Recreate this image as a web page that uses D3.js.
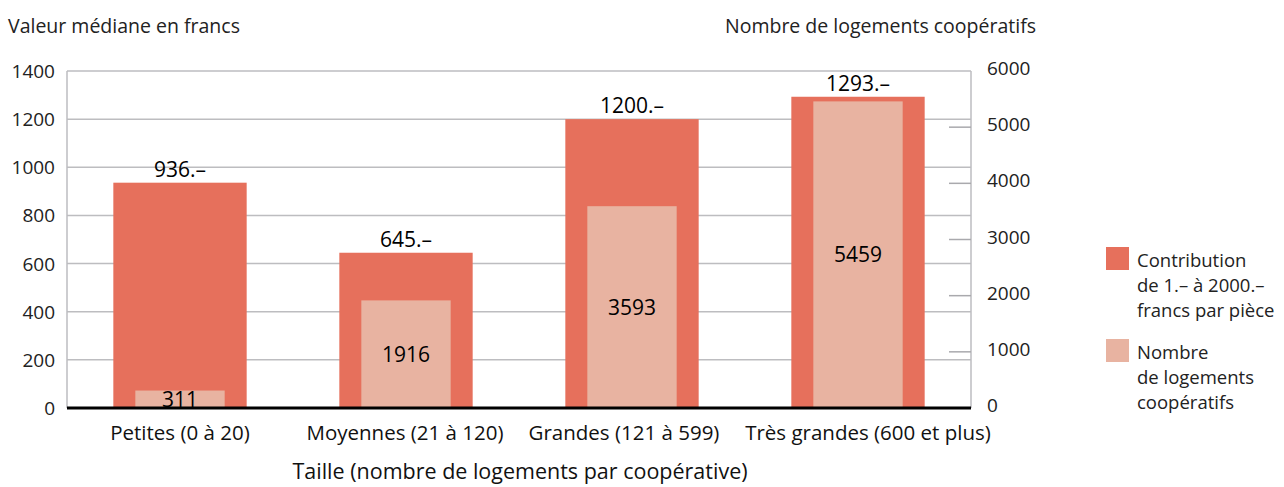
<!DOCTYPE html>
<html>
<head>
<meta charset="utf-8">
<script src="https://cdn.jsdelivr.net/npm/d3@7"></script>
<style>
  body { margin: 0; background: #fff; }
  svg text { font-family: "Open Sans", "Noto Sans", sans-serif; }
</style>
</head>
<body>
<div class="chart"></div>
<script>
// categories et valeurs
var categories = ['Petites (0 à 20)', 'Moyennes (21 à 120)', 'Grandes (121 à 599)', 'Très grandes (600 et plus)'];
var contribution = [936, 645, 1200, 1293];
var logements = [311, 1916, 3593, 5459];
var leftTicks = [0, 200, 400, 600, 800, 1000, 1200, 1400];
var rightTicks = [0, 1000, 2000, 3000, 4000, 5000, 6000];

var svg_width = 1284,
    svg_height = 487,
    svg = d3.select('.chart').append('svg').attr('width', svg_width).attr('height', svg_height),
    margin = {top: 71, right: 313, bottom: 79, left: 67},
    width = svg_width - margin.left - margin.right,
    height = svg_height - margin.top - margin.bottom;

var g = svg.append('g').attr('transform', 'translate(' + margin.left + ',' + margin.top + ')');

var x = d3.scaleBand().domain(categories).range([0, width]).paddingInner(0.41).paddingOuter(0.205);
var yL = d3.scaleLinear().domain([0, 1400]).range([height, 0]);
var yR = d3.scaleLinear().domain([0, 6000]).range([height, 0]);

var c1 = '#e6705c', c2 = '#e8b3a1';

// grille
g.selectAll('.grid').data(leftTicks)
  .enter().append('line')
  .attr('x1', 0).attr('x2', width)
  .attr('y1', function(d) { return yL(d); })
  .attr('y2', function(d) { return yL(d); })
  .attr('stroke', '#bdbdc0').attr('stroke-width', 1.5);

g.append('line').attr('x1', 0).attr('x2', 0).attr('y1', 0).attr('y2', height)
  .attr('stroke', '#bdbdc0').attr('stroke-width', 1.5);
g.append('line').attr('x1', width).attr('x2', width).attr('y1', 0).attr('y2', height)
  .attr('stroke', '#bdbdc0').attr('stroke-width', 1.5);

// petits traits de l'axe de droite
g.selectAll('.rtick').data(rightTicks.slice(1, -1))
  .enter().append('line')
  .attr('x1', width - 22).attr('x2', width)
  .attr('y1', function(d) { return yR(d); })
  .attr('y2', function(d) { return yR(d); })
  .attr('stroke', '#a9a9ad').attr('stroke-width', 1.5);

// barres
g.selectAll('.bar').data(contribution)
  .enter().append('rect')
  .attr('x', function(d, i) { return x(categories[i]); })
  .attr('y', function(d) { return yL(d); })
  .attr('width', x.bandwidth())
  .attr('height', function(d) { return height - yL(d); })
  .attr('fill', c1);

var innerW = x.bandwidth() * 0.67;
g.selectAll('.bar2').data(logements)
  .enter().append('rect')
  .attr('x', function(d, i) { return x(categories[i]) + (x.bandwidth() - innerW) / 2; })
  .attr('y', function(d) { return yR(d); })
  .attr('width', innerW)
  .attr('height', function(d) { return height - yR(d); })
  .attr('fill', c2);

// étiquettes
g.selectAll('.lab1').data(contribution)
  .enter().append('text')
  .attr('x', function(d, i) { return x(categories[i]) + x.bandwidth() / 2; })
  .attr('y', function(d) { return yL(d) - 6; })
  .attr('text-anchor', 'middle')
  .style('font-size', '21px').attr('fill', '#000')
  .text(function(d) { return d + '.–'; });

g.selectAll('.lab2').data(logements)
  .enter().append('text')
  .attr('x', function(d, i) { return x(categories[i]) + x.bandwidth() / 2; })
  .attr('y', function(d) { return (yR(d) + height) / 2 + 7.5; })
  .attr('text-anchor', 'middle')
  .style('font-size', '21px').attr('fill', '#000')
  .text(function(d) { return d; });

// ligne de base
g.append('line').attr('x1', 0).attr('x2', width).attr('y1', height).attr('y2', height)
  .attr('stroke', '#000').attr('stroke-width', 3);

// axes
g.selectAll('.ltl').data(leftTicks)
  .enter().append('text')
  .attr('x', -12).attr('y', function(d) { return yL(d) + 7; })
  .attr('text-anchor', 'end').style('font-size', '19px').attr('fill', '#222')
  .text(function(d) { return d; });

g.selectAll('.rtl').data(rightTicks)
  .enter().append('text')
  .attr('x', width + 16).attr('y', function(d) { return yR(d) + 4; })
  .attr('text-anchor', 'start').style('font-size', '19px').attr('fill', '#222')
  .text(function(d) { return d; });

// léger décalage des libellés pour qu'ils ne se touchent pas
var catShift = [0, -1, -8, 10];
g.selectAll('.cat').data(categories)
  .enter().append('text')
  .attr('x', function(d, i) { return x(d) + x.bandwidth() / 2 + catShift[i]; })
  .attr('y', height + 32)
  .attr('text-anchor', 'middle').style('font-size', '20.5px').attr('fill', '#111')
  .text(function(d) { return d; });

svg.append('text').attr('x', 520).attr('y', 479).attr('text-anchor', 'middle')
  .style('font-size', '21.5px').attr('fill', '#111')
  .text('Taille (nombre de logements par coopérative)');

svg.append('text').attr('x', 8).attr('y', 33)
  .style('font-size', '19.5px').attr('fill', '#222')
  .text('Valeur médiane en francs');

svg.append('text').attr('x', 1036).attr('y', 33).attr('text-anchor', 'end')
  .style('font-size', '19.5px').attr('fill', '#222')
  .text('Nombre de logements coopératifs');

// légende
var legend = [
  {c: c1, lines: ['Contribution', 'de 1.– à 2000.–', 'francs par pièce']},
  {c: c2, lines: ['Nombre', 'de logements', 'coopératifs']}
];
var lg = svg.selectAll('.leg').data(legend).enter().append('g')
  .attr('transform', function(d, i) { return 'translate(1106,' + (247 + i * 92) + ')'; });
lg.append('rect').attr('width', 23).attr('height', 23).attr('fill', function(d) { return d.c; });
lg.each(function(d) {
  d3.select(this).selectAll('text').data(d.lines).enter().append('text')
    .attr('x', 31).attr('y', function(t, j) { return 20 + j * 25; })
    .style('font-size', '18.5px').attr('fill', '#222')
    .text(function(t) { return t; });
});
</script>
</body>
</html>
